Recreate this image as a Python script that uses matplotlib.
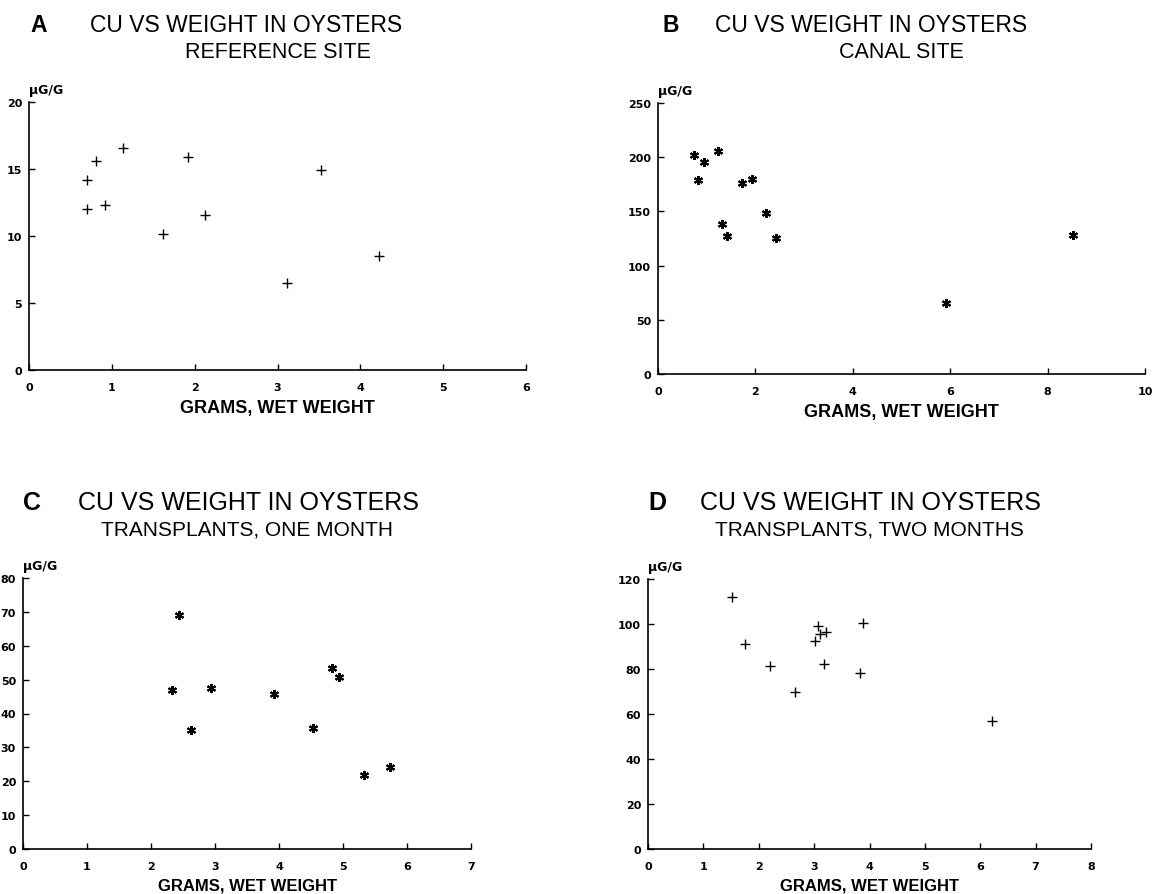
import matplotlib
matplotlib.use('Agg')
import matplotlib.pyplot as plt

plt.rcParams['font.family'] = ['Liberation Sans', 'DejaVu Sans']

# A - reference site
a_x = [0.70, 0.70, 0.81, 0.92, 1.13, 1.62, 1.92, 2.12, 3.12, 3.52, 4.22]
a_y = [14.2, 12.0, 15.6, 12.3, 16.6, 10.15, 15.9, 11.6, 6.5, 14.9, 8.5]
# B - canal site
b_x = [0.74, 0.83, 0.94, 1.23, 1.31, 1.41, 1.72, 1.92, 2.22, 2.42, 5.92, 8.52]
b_y = [201.6, 179, 196, 205.6, 138.4, 127.6, 176, 180, 148.9, 125.8, 65.4, 128.2]
# C - transplants, one month
c_x = [2.33, 2.44, 2.63, 2.93, 3.92, 4.53, 4.83, 4.93, 5.33, 5.73]
c_y = [47.0, 69.2, 35.1, 47.6, 45.8, 35.6, 53.5, 50.9, 21.9, 24.3]
# D - transplants, two months
d_x = [1.52, 1.76, 2.20, 2.66, 3.01, 3.07, 3.11, 3.22, 3.17, 3.83, 3.88, 6.22]
d_y = [111.9, 91.0, 81.4, 69.7, 92.5, 99.3, 95.6, 96.5, 82.3, 78.4, 100.3, 56.8]

panels = [
    # letter, subtitle, x, y, marker, xmax, xstep, ymax, ystep,
    # axes box px (l, r, bottom, top), letter x, title x, title y, sizes
    ('A', 'REFERENCE SITE', a_x, a_y, '+', 6, 1, 20, 5,
     (29, 526, 371, 103), 30, 90, 26, (16.5, 15.5, 13)),
    ('B', 'CANAL SITE', b_x, b_y, (6, 2, 0), 10, 2, 250, 50,
     (658, 1145, 375, 104), 662, 715, 26, (16.5, 15.5, 13)),
    ('C', 'TRANSPLANTS, ONE MONTH', c_x, c_y, (6, 2, 0), 7, 1, 80, 10,
     (23, 471, 850, 579), 23, 78, 503, (18, 15, 12)),
    ('D', 'TRANSPLANTS, TWO MONTHS', d_x, d_y, '+', 8, 1, 120, 20,
     (648, 1091, 850, 580), 648, 700, 503, (18, 15, 12)),
]

W, H = 1155, 895
fig = plt.figure(figsize=(W / 100, H / 100), dpi=100)

for letter, sub, xs, ys, mk, xmax, xstep, ymax, ystep, box, lx, tx, ty, fs in panels:
    l, r, b, t = box
    ax = fig.add_axes([l / W, 1 - b / H, (r - l) / W, (b - t) / H])
    if mk == '+':
        ax.plot(xs, ys, linestyle='none', marker='+', markersize=7,
                markeredgewidth=1.0, color='black')
    else:
        ax.plot(xs, ys, linestyle='none', marker=mk, markersize=6.5,
                markeredgewidth=1.5, color='black')
    ax.set_xlim(0, xmax)
    ax.set_ylim(0, ymax)
    ax.set_xticks(range(0, xmax + 1, xstep))
    ax.set_yticks(range(0, ymax + 1, ystep))
    for s in ['top', 'right']:
        ax.spines[s].set_visible(False)
    for s in ['left', 'bottom']:
        ax.spines[s].set_linewidth(1.2)
    ax.tick_params(direction='in', length=4, width=1.0)
    ax.tick_params(axis='x', pad=9)
    ax.tick_params(axis='y', pad=5)
    for lab in ax.get_xticklabels() + ax.get_yticklabels():
        lab.set_family('DejaVu Sans')
        lab.set_fontweight('bold')
        lab.set_fontsize(8)
    ax.set_xlabel('GRAMS, WET WEIGHT', fontsize=fs[2], fontweight='bold',
                  labelpad=4.5)
    fig.text(l / W, 1 - (t - 6) / H, 'μG/G', family='DejaVu Sans', fontsize=9,
             fontweight='bold', ha='left', va='bottom')
    cx = (l + r) / 2
    fig.text(lx / W, 1 - ty / H, letter, fontsize=fs[0], fontweight='bold',
             ha='left', va='center')
    fig.text(tx / W, 1 - ty / H, 'CU VS WEIGHT IN OYSTERS', fontsize=fs[0],
             ha='left', va='center')
    fig.text(cx / W, 1 - (ty + 27) / H, sub, fontsize=fs[1], ha='center',
             va='center')

fig.savefig('out.png', dpi=100, facecolor='white')
